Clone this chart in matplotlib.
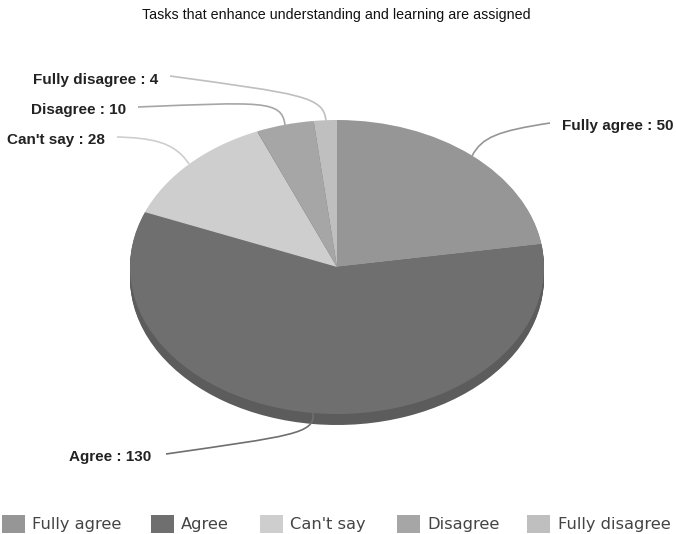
import matplotlib
matplotlib.use('Agg')
import matplotlib.pyplot as plt
from matplotlib.path import Path
from matplotlib.patches import PathPatch, Rectangle

W, H = 676, 534

categories = ["Fully agree", "Agree", "Can't say", "Disagree", "Fully disagree"]
values = [50, 130, 28, 10, 4]
colors = ['#969696', '#6f6f6f', '#cecece', '#a6a6a6', '#bfbfbf']
side_colors = ['#5c5c5c'] * 5

# label anchors and leader curves, in picture pixels
label_x = [562, 69, 7, 31, 33]
label_y = [126, 457, 140, 110, 80]
leaders = [
    [(472, 156), (482, 137), (498, 131), (550, 123)],
    [(313, 413), (316, 434), (290, 436), (166, 454)],
    [(189, 164), (174, 141), (150, 138), (117, 137)],
    [(285, 125), (282, 100), (262, 102), (138, 107)],
    [(326, 121), (324, 96), (300, 94), (170, 76)],
]
legend_box_x = [2, 151, 260, 397, 527]
legend_text_x = [32, 181, 290, 427, 558]

fig = plt.figure(figsize=(W / 100, H / 100), dpi=100)

# pie sits in its own axes, stretched to an ellipse
left, right, top, bottom = 130, 544, 120, 414
ax = fig.add_axes([left / W, (H - bottom) / H, (right - left) / W, (bottom - top) / H])
ry = (bottom - top) / 2
for d in range(11, 0, -1):
    ax.pie(values, colors=side_colors, startangle=90, counterclock=False,
           center=(0, -d / ry), frame=True)
ax.pie(values, colors=colors, startangle=90, counterclock=False, center=(0, 0), frame=True)
ax.set_aspect('auto')
ax.set_xlim(-1, 1)
ax.set_ylim(-1, 1)
ax.axis('off')
for p in ax.patches:
    p.set_clip_on(False)
    p.set_linewidth(0)

# overlay in pixel coords for title, leaders, labels, legend
ov = fig.add_axes([0, 0, 1, 1], facecolor='none')
ov.set_xlim(0, W)
ov.set_ylim(H, 0)
ov.axis('off')

ov.text(336, 15, "Tasks that enhance understanding and learning are assigned",
        family='Liberation Sans', fontsize=10.3, ha='center', va='center', color='#111111')

for i, name in enumerate(categories):
    ov.add_patch(PathPatch(Path(leaders[i], [Path.MOVETO, Path.CURVE4, Path.CURVE4, Path.CURVE4]),
                           fill=False, edgecolor=colors[i], linewidth=1.2))
    ov.text(label_x[i], label_y[i], name + " : " + str(values[i]), family='Liberation Sans',
            fontweight='bold', fontsize=11, ha='left', va='center', color='#222222')
    ov.add_patch(Rectangle((legend_box_x[i], 515), 23, 18, facecolor=colors[i], edgecolor='none'))
    ov.text(legend_text_x[i], 525, name, family='DejaVu Sans', fontsize=11.7,
            ha='left', va='center', color='#444444')

fig.savefig('out.png', dpi=100)
